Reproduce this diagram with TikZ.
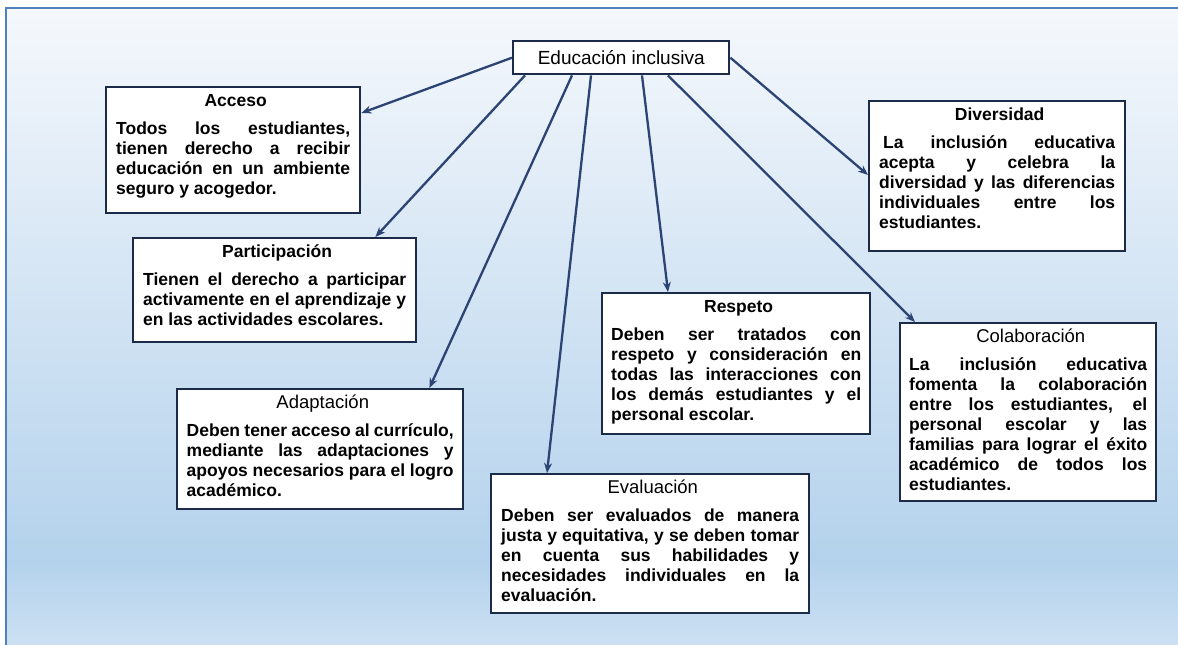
\documentclass[tikz,border=0pt]{standalone}
\usepackage{fontspec}
\setmainfont{Liberation Sans}
\usetikzlibrary{arrows.meta,calc}
\definecolor{frameblue}{HTML}{4F81BD}
\definecolor{arrowblue}{HTML}{2C4474}
\definecolor{boxline}{HTML}{1C2B4A}
\definecolor{bgtop}{HTML}{F5F8FC}
\definecolor{bgmid}{HTML}{B4D2EC}
\definecolor{bgbot}{HTML}{CCE0F2}
\newcommand{\boxhead}[2]{{\centering\rule{0pt}{16pt}#1 #2\par}\vspace{8pt}\noindent}
\newcommand{\headbf}{\fontsize{17.5}{20}\selectfont\bfseries}
\newcommand{\headmd}{\fontsize{18.5}{20}\selectfont\mdseries}
\begin{document}
\begin{tikzpicture}[x=1pt,y=-1pt,
  box/.style={draw=boxline, line width=2.4pt, fill=white, anchor=north west, inner sep=0pt},
  txt/.style={anchor=north, inner sep=0pt, align=justify, font=\fontsize{17.5}{20}\selectfont\bfseries},
  conn/.style={draw=arrowblue, line width=2.3pt, -{Stealth[length=10pt,width=8pt]}}
]
\useasboundingbox (0,0) rectangle (1178,645);
\fill[white] (0,0) rectangle (1178,645);
\shade[top color=bgtop, bottom color=bgmid] (6,8) rectangle (1178,560);
\shade[top color=bgmid, bottom color=bgbot] (6,559.5) rectangle (1178,645);
\draw[frameblue, line width=2pt] (6,645) -- (6,8) -- (1178,8);

% title
\node[box, minimum width=216pt, minimum height=33pt, font=\fontsize{19}{22}\selectfont] (ttl) at (512,40) {Educación inclusiva};

% boxes
\node[box, minimum width=254pt, minimum height=126pt] (acc) at (105,86) {};
\node[box, minimum width=283pt, minimum height=104pt] (par) at (132,237) {};
\node[box, minimum width=256pt, minimum height=150pt] (div) at (868,100) {};
\node[box, minimum width=268pt, minimum height=141pt] (res) at (601,292) {};
\node[box, minimum width=256pt, minimum height=178pt] (col) at (899,322) {};
\node[box, minimum width=286pt, minimum height=120pt] (ada) at (176,388) {};
\node[box, minimum width=318pt, minimum height=139pt] (eva) at (490,473) {};

% texts
\node[txt, text width=234pt] (acct) at ([yshift=-4.5pt]acc.north) {\boxhead{\headbf}{Acceso}Todos los estudiantes,\linebreak tienen derecho a recibir\linebreak educación en un ambiente\linebreak seguro y acogedor.};
\node[txt, text width=263pt] (part) at ([yshift=-4.5pt]par.north) {\boxhead{\headbf}{Participación}Tienen el derecho a participar\linebreak activamente en el aprendizaje y\linebreak en las actividades escolares.};
\node[txt, text width=236pt] (divt) at ([yshift=-4.5pt]div.north) {\boxhead{\headbf}{Diversidad}\hspace*{4pt}La inclusión educativa\linebreak acepta y celebra la\linebreak diversidad y las diferencias\linebreak individuales entre los\linebreak estudiantes.};
\node[txt, text width=250pt] (rest) at ([yshift=-4.5pt]res.north) {\boxhead{\headbf}{Respeto}Deben ser tratados con\linebreak respeto y consideración en\linebreak todas las interacciones con\linebreak los demás estudiantes y el\linebreak personal escolar.};
\node[txt, text width=238pt] (colt) at ([yshift=-4.5pt]col.north) {\boxhead{\headmd}{Colaboración}La inclusión educativa\linebreak fomenta la colaboración\linebreak entre los estudiantes, el\linebreak personal escolar y las\linebreak familias para lograr el éxito\linebreak académico de todos los\linebreak estudiantes.};
\node[txt, text width=267pt] (adat) at ([yshift=-4.5pt]ada.north) {\boxhead{\headmd}{Adaptación}Deben tener acceso al currículo,\linebreak mediante las adaptaciones y\linebreak apoyos necesarios para el logro\linebreak académico.};
\node[txt, text width=298pt] (evat) at ([yshift=-4.5pt]eva.north) {\boxhead{\headmd}{Evaluación}Deben ser evaluados de manera\linebreak justa y equitativa, y se deben tomar\linebreak en cuenta sus habilidades y\linebreak necesidades individuales en la\linebreak evaluación.};

% connectors
\draw[conn] (ttl.west) -- ($(acc.north east)+(0,27)$);
\draw[conn] ($(ttl.south west)+(13,0)$) -- ($(par.north east)+(-42,0)$);
\draw[conn] ($(ttl.south west)+(60,0)$) -- ($(ada.north east)+(-35,0)$);
\draw[conn] ($(ttl.south west)+(79,0)$) -- ($(eva.north west)+(57,0)$);
\draw[conn] ($(ttl.south west)+(130,0)$) -- ($(res.north west)+(67,0)$);
\draw[conn] ($(ttl.south west)+(156,0)$) -- ($(col.north west)+(16,0)$);
\draw[conn] (ttl.east) -- ($(div.north west)+(0,75)$);
\end{tikzpicture}
\end{document}
